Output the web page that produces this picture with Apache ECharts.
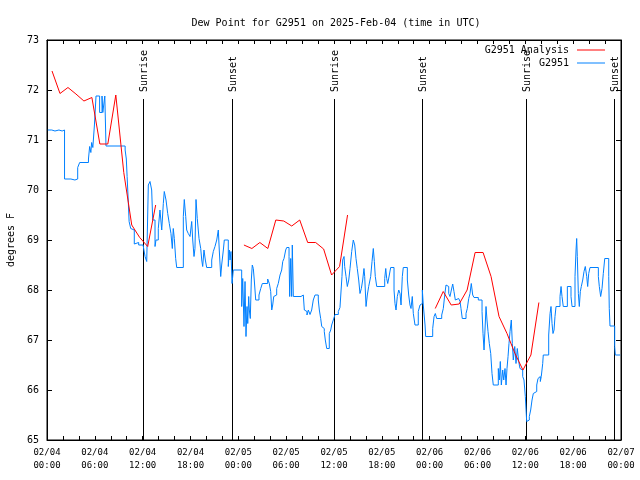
<!DOCTYPE html>
<html>
<head>
<meta charset="utf-8">
<script src="https://cdn.jsdelivr.net/npm/echarts@6/dist/echarts.min.js"></script>
<style>html,body{margin:0;padding:0;background:#fff}#c{width:640px;height:480px}</style>
</head>
<body>
<div id="c"></div>
<script>
// Hours since 02/04 00:00 UTC
const yTicks = [65, 73, 1];
const sunTimes = [12.08, 23.16, 36.05, 47.1, 60.12, 71.16];
const sunLabels = ['Sunrise', 'Sunset', 'Sunrise', 'Sunset', 'Sunrise', 'Sunset'];

const analysisDay1 = [[0.63,72.38],[1.63,71.93],[2.63,72.05],[3.63,71.92],[4.63,71.78],[5.63,71.85],[6.63,70.92],[7.63,70.92],[8.63,71.9],[9.63,70.35],[10.63,69.3],[11.63,69.05],[12.63,68.87],[13.63,69.7]];
const analysisDay2 = [[24.7,68.9],[25.7,68.83],[26.7,68.95],[27.7,68.83],[28.7,69.4],[29.7,69.38],[30.7,69.28],[31.7,69.4],[32.7,68.95],[33.7,68.95],[34.7,68.82],[35.7,68.3],[36.7,68.47],[37.7,69.5]];
const analysisDay3 = [[48.7,67.63],[49.7,67.97],[50.7,67.7],[51.7,67.72],[52.7,68.0],[53.7,68.75],[54.7,68.75],[55.7,68.27],[56.7,67.47],[57.7,67.13],[58.7,66.73],[59.7,66.4],[60.7,66.7],[61.7,67.75]];

const obsDay1 = [[0.1,71.2],[0.6,71.18],[1.0,71.2],[1.5,71.18],[1.9,71.2],[2.2,70.22],[3.0,70.2],[3.5,70.22],[3.85,70.45],[4.1,70.55],[5.2,70.62],[5.35,70.87],[5.5,70.75],[5.6,70.95],[5.75,70.85],[5.95,71.3],[6.15,71.88],[6.6,71.55],[6.9,71.88],[7.0,71.55],[7.25,71.88],[7.4,70.88],[9.8,70.8],[9.95,70.62],[10.05,70.27],[10.2,69.75],[10.3,69.37],[10.5,69.23],[10.65,69.2],[10.95,68.92],[11.2,68.95],[11.5,68.9],[12.05,68.9],[12.3,68.67],[12.51,68.57],[12.71,70.1],[12.92,70.17],[13.13,70.0],[13.26,69.4],[13.55,68.87],[13.67,69.0],[13.96,69.23],[14.17,69.6],[14.39,69.2],[14.59,69.73],[14.71,69.97],[14.93,69.8],[15.14,69.53],[15.34,69.33],[15.55,69.13],[15.72,68.83],[15.84,69.23],[15.97,69.03],[16.14,68.63],[16.27,68.45],[17.1,69.47],[17.22,69.81],[17.4,69.47],[17.52,69.2],[17.72,69.13],[17.94,69.07],[18.15,69.37],[18.28,69.0],[18.44,68.67],[18.56,68.83],[18.69,69.81],[18.85,69.43],[19.07,69.03],[19.28,68.83],[19.41,68.6],[19.53,68.47],[19.69,68.8],[19.86,68.6],[20.03,68.45],[20.66,68.6],[20.86,68.77],[21.07,68.87],[21.29,69.0],[21.49,69.2],[21.61,68.8],[21.79,68.27],[21.91,68.5],[22.12,68.8],[22.24,69.0],[22.74,68.47],[22.87,68.8],[22.96,68.6],[23.08,68.77],[23.21,68.13],[23.37,68.4]];
const obsDay2 = [[24.42,67.67],[24.55,68.23],[24.71,67.27],[24.84,68.17],[24.96,67.07],[25.09,67.67],[25.18,67.33],[25.3,67.87],[25.38,67.6],[25.5,67.43],[25.63,68.2],[25.75,68.5],[25.88,68.43],[26.0,68.2],[26.18,67.8],[26.59,67.9],[26.81,68.03],[27.01,68.13],[27.68,68.22],[27.89,68.13],[28.06,67.97],[28.19,67.6],[28.31,67.7],[28.44,67.87],[28.6,67.9],[28.81,68.03],[29.01,68.13],[29.23,68.3],[29.44,68.4],[29.57,68.57],[29.73,68.63],[29.94,68.8],[30.07,68.85],[30.36,68.67],[30.44,67.87],[30.57,68.63],[30.69,67.87],[30.77,68.9],[30.9,67.87],[31.86,67.9],[32.15,67.87],[32.28,67.6],[32.49,67.57],[32.61,67.5],[32.78,67.6],[32.99,67.51],[33.2,67.6],[33.4,67.8],[33.62,67.9],[34.03,67.8],[34.16,67.6],[34.33,67.43],[34.46,67.27],[34.66,67.23],[34.78,67.17],[34.91,67.0],[35.09,66.83],[35.41,67.13],[35.59,67.2],[35.71,67.3],[35.91,67.4],[36.13,67.51],[36.54,67.57],[36.75,67.65],[36.84,67.67],[37.0,68.27],[37.09,68.6],[37.26,68.67],[37.34,68.47],[37.51,68.27],[37.67,68.07],[37.85,68.2],[38.01,68.43],[38.22,68.77],[38.42,69.0],[38.6,68.9],[38.76,68.63],[38.92,68.43],[39.1,68.2],[39.26,67.93],[39.43,68.03],[39.6,68.2],[39.76,68.43],[39.85,68.27],[40.02,67.67],[40.18,67.9],[40.35,68.07],[40.6,68.27],[40.77,68.57],[40.93,68.83],[41.06,68.57],[41.18,68.27],[41.36,68.07],[42.36,68.23],[42.49,68.43],[42.61,68.23],[42.74,68.13],[42.94,68.3],[43.11,68.45],[43.53,68.0],[43.65,67.73],[43.78,67.6],[43.94,67.87],[44.12,68.0],[44.28,67.93],[44.41,67.7],[44.57,68.27],[44.69,68.45],[45.2,68.2],[45.37,67.9],[45.53,67.7],[45.66,67.63],[45.82,67.87],[45.95,67.53],[46.16,67.3],[46.57,67.57],[46.79,67.7],[46.95,67.73],[47.08,68.0],[47.2,67.7],[47.42,67.3],[47.5,67.07]];
const obsDay3 = [[48.38,67.23],[48.55,67.47],[48.71,67.53],[48.88,67.43],[49.51,67.5],[49.71,67.63],[49.89,67.9],[50.05,68.1],[50.21,68.07],[50.39,67.93],[50.55,67.87],[50.72,68.0],[50.89,68.12],[51.05,67.97],[51.22,67.8],[51.39,67.83],[51.64,67.87],[51.81,67.77],[51.93,67.63],[52.09,67.43],[52.56,67.53],[52.72,67.63],[52.9,67.83],[53.06,67.93],[53.22,68.13],[53.4,67.9],[53.56,67.85],[54.1,67.8],[54.57,67.57],[54.69,67.13],[54.82,66.8],[54.94,67.2],[55.07,67.67],[55.19,67.4],[55.32,67.17],[55.48,66.93],[55.66,66.73],[55.82,66.33],[55.98,66.1],[56.61,66.43],[56.74,66.2],[56.86,66.57],[56.99,66.1],[57.16,66.4],[57.29,66.2],[57.45,66.43],[57.58,66.1],[57.7,66.43],[57.83,66.67],[57.95,66.93],[58.08,67.17],[58.24,67.4],[58.37,66.93],[58.49,66.6],[58.67,66.87],[58.83,66.53],[58.99,66.83],[59.17,66.57],[59.33,66.43],[59.5,66.4],[59.67,66.27],[59.83,66.2],[60.0,65.87],[60.09,65.6],[60.17,65.37],[60.37,65.4],[60.5,65.47],[60.67,65.6],[60.84,65.8],[61.0,65.93],[61.21,65.97],[61.43,66.1],[61.59,66.23],[61.75,66.27],[61.88,66.17],[62.0,66.27],[62.18,66.53],[62.25,66.7],[62.93,67.1],[63.1,67.53],[63.22,67.67],[63.35,67.33],[63.47,67.13],[63.6,67.2],[63.72,67.47],[63.85,67.67],[64.35,67.87],[64.48,68.07],[64.6,67.87],[64.76,67.67],[65.27,68.07],[65.73,67.87],[65.86,67.67],[66.23,68.27],[66.36,68.8],[66.44,69.03],[66.52,68.67],[66.65,67.93],[66.77,67.67],[66.9,67.97],[67.02,68.07],[67.2,68.2],[67.36,68.37],[67.52,68.47],[67.7,68.27],[67.82,68.07],[67.95,68.33],[68.11,68.45],[69.16,68.27],[69.28,68.07],[69.45,67.87],[69.62,68.03],[69.78,68.33],[69.96,68.63],[70.46,68.27],[70.53,67.63],[70.62,67.28],[71.21,66.87],[71.29,66.7],[71.9,66.7]];

const FONT = 'DejaVu Sans Mono';
const sunLineTop = 71.82;

const analysisData = [].concat(analysisDay1, [[18, '-']], analysisDay2, [[42, '-']], analysisDay3);
const obsData = [].concat(obsDay1, obsDay2, obsDay3);

function xLabel(v) {
  const day = 4 + Math.floor(v / 24);
  const hh = v % 24;
  return '02/0' + day + '\n' + (hh < 10 ? '0' : '') + hh + ':00';
}

const baseX = {
  type: 'value', min: 0, max: 72, interval: 6,
  axisLine: { show: true, onZero: false, lineStyle: { color: '#000', width: 1 } },
  axisTick: { show: true, inside: true, length: 4, lineStyle: { color: '#000' } },
  minorTick: { show: true, splitNumber: 3, length: 4, lineStyle: { color: '#000' } },
  splitLine: { show: false }
};
const baseY = {
  type: 'value', min: yTicks[0], max: yTicks[1], interval: yTicks[2],
  axisLine: { show: true, onZero: false, lineStyle: { color: '#000', width: 1 } },
  axisTick: { show: true, inside: true, length: 5, lineStyle: { color: '#000' } },
  splitLine: { show: false }
};

const chart = echarts.init(document.getElementById('c'), null, { renderer: 'canvas' });
chart.setOption({
  animation: false,
  backgroundColor: '#fff',
  title: {
    text: 'Dew Point for G2951 on 2025-Feb-04 (time in UTC)',
    left: 331, top: 13, textAlign: 'center',
    textStyle: { fontFamily: FONT, fontSize: 10, fontWeight: 'normal', color: '#000' }
  },
  legend: {
    data: ['G2951 Analysis', 'G2951'],
    orient: 'vertical', right: 30, top: 39, align: 'right',
    icon: 'rect', itemWidth: 28, itemHeight: 1, itemGap: 1,
    textStyle: { fontFamily: FONT, fontSize: 10, color: '#000', lineHeight: 12, padding: [0, 3, 0, 0] }
  },
  grid: { left: 47, right: 19, top: 40, bottom: 40, show: true, borderColor: '#000', borderWidth: 1, containLabel: false, outerBoundsMode: 'none' },
  xAxis: [
    Object.assign({}, baseX, {
      position: 'bottom',
      axisLabel: { formatter: xLabel, fontFamily: FONT, fontSize: 9, color: '#000', margin: 6, lineHeight: 13 }
    }),
    Object.assign({}, baseX, { position: 'top', axisLabel: { show: false } })
  ],
  yAxis: [
    Object.assign({}, baseY, {
      position: 'left',
      name: 'degrees F', nameLocation: 'middle', nameGap: 31,
      nameTextStyle: { fontFamily: FONT, fontSize: 10, color: '#000' },
      axisLabel: { fontFamily: FONT, fontSize: 10, color: '#000', margin: 8 }
    }),
    Object.assign({}, baseY, { position: 'right', axisLabel: { show: false } })
  ],
  series: [
    {
      type: 'custom', coordinateSystem: 'cartesian2d', xAxisIndex: 0, yAxisIndex: 0,
      silent: true, clip: false, z: 1,
      data: sunTimes.map(function (t, i) { return [t, i]; }),
      renderItem: function (params, api) {
        const t = api.value(0);
        const top = api.coord([t, sunLineTop]);
        const bot = api.coord([t, yTicks[0]]);
        const x = Math.round(top[0]) + 0.5;
        return {
          type: 'group',
          children: [
            { type: 'line', shape: { x1: x, y1: top[1], x2: x, y2: bot[1] }, style: { stroke: '#000', lineWidth: 1 } },
            { type: 'text', x: x + 1, y: top[1] - 7, rotation: Math.PI / 2,
              style: { text: sunLabels[params.dataIndex], fill: '#000', font: '10px "' + FONT + '"', align: 'left', verticalAlign: 'middle' } }
          ]
        };
      }
    },
    {
      name: 'G2951', type: 'line', data: obsData, step: 'end',
      symbol: 'none', showSymbol: false, z: 3,
      lineStyle: { color: '#0080ff', width: 1 }, itemStyle: { color: '#0080ff' }
    },
    {
      name: 'G2951 Analysis', type: 'line', data: analysisData, connectNulls: false,
      symbol: 'none', showSymbol: false, z: 4,
      lineStyle: { color: '#ff0000', width: 1 }, itemStyle: { color: '#ff0000' }
    }
  ]
});
</script>
</body>
</html>
